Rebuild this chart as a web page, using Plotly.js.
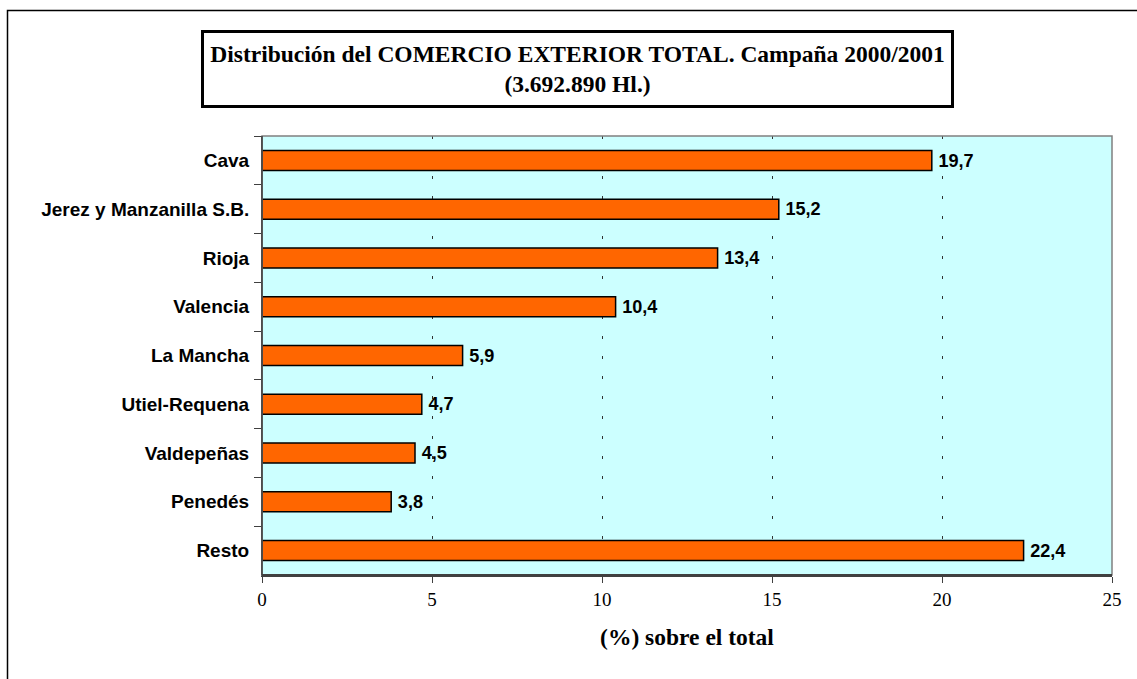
<!DOCTYPE html>
<html><head><meta charset="utf-8">
<script src="https://cdn.plot.ly/plotly-3.0.1.min.js"></script>
<style>html,body{margin:0;padding:0;background:#fff}#c{width:1137px;height:679px}</style>
</head><body><div id="c"></div>
<script>
const categories = ["Cava","Jerez y Manzanilla S.B.","Rioja","Valencia","La Mancha","Utiel-Requena","Valdepeñas","Penedés","Resto"];
const values = [19.7,15.2,13.4,10.4,5.9,4.7,4.5,3.8,22.4];
const xTicks = [0,5,10,15,20,25];
const labels = values.map(v => '\u2009' + v.toFixed(1).replace('.', ','));

const trace = {
  type: 'bar', orientation: 'h',
  x: values, y: categories,
  width: 0.41,
  marker: {color: '#FF6600', line: {color: '#000', width: 1.5}},
  text: labels, textposition: 'outside', cliponaxis: false,
  textfont: {family: 'Liberation Sans, Arial', size: 19, color: '#000', weight: 'bold'},
  hoverinfo: 'none'
};

const layout = {
  width: 1137, height: 679,
  margin: {l: 262, r: 25, t: 136, b: 104},
  paper_bgcolor: '#fff', plot_bgcolor: '#CCFFFF',
  showlegend: false,
  xaxis: {
    range: [0, 25], tickvals: xTicks, ticktext: xTicks.map(String),
    showgrid: true, gridcolor: '#333', gridwidth: 1, griddash: '3px,17px',
    zeroline: false, showline: true, linecolor: '#404040', linewidth: 2,
    ticks: 'outside', ticklen: 6, tickcolor: '#404040', mirror: false,
    tickfont: {family: 'Liberation Serif, Times New Roman', size: 19, color: '#000'},
    title: {text: '<b>(%) sobre el total</b>', font: {family: 'Liberation Serif, Times New Roman', size: 23.5, color: '#000'}, standoff: 20}
  },
  yaxis: {
    autorange: 'reversed', type: 'category',
    showgrid: false, zeroline: false, showline: true, linecolor: '#404040', linewidth: 1,
    ticks: 'outside', tickson: 'boundaries', ticklen: 7, tickcolor: '#404040',
    tickfont: {family: 'Liberation Sans, Arial', size: 19, color: '#000', weight: 'bold'},
    ticklabelstandoff: 8
  },
  shapes: [
    {type: 'rect', xref: 'paper', yref: 'paper', x0: 0, x1: 1, y0: 0, y1: 1, line: {color: '#808080', width: 1.5}, fillcolor: 'rgba(0,0,0,0)', layer: 'above'},
    {type: 'line', xref: 'paper', yref: 'paper', x0: 0, x1: 0, y0: 0, y1: 1, line: {color: '#404040', width: 1.5}, layer: 'above'},
    {type: 'line', xref: 'paper', yref: 'paper', x0: 0, x1: 1, y0: 0, y1: 0, line: {color: '#404040', width: 2}, layer: 'above'}
  ],
  annotations: [
    {xref: 'paper', yref: 'paper', x: (577 - 262) / 850, y: (575 - 68.5) / 439, xanchor: 'center', yanchor: 'middle',
     text: '<b>Distribución del COMERCIO EXTERIOR TOTAL. Campaña 2000/2001<br>(3.692.890 Hl.)</b>',
     showarrow: false, align: 'center',
     font: {family: 'Liberation Serif, Times New Roman', size: 23.5, color: '#000'},
     bordercolor: '#000', borderwidth: 3, bgcolor: '#fff',
     width: 745, height: 70}
  ]
};

Plotly.newPlot('c', [trace], layout, {displayModeBar: false, staticPlot: true}).then(() => {
  const svg = document.querySelector('#c .main-svg');
  const ns = 'http://www.w3.org/2000/svg';
  const r = document.createElementNS(ns, 'rect');
  r.setAttribute('x', 7.5); r.setAttribute('y', 10.5);
  r.setAttribute('width', 1140); r.setAttribute('height', 700);
  r.setAttribute('fill', 'none'); r.setAttribute('stroke', '#000'); r.setAttribute('stroke-width', 1.5);
  svg.appendChild(r);
});
</script></body></html>
